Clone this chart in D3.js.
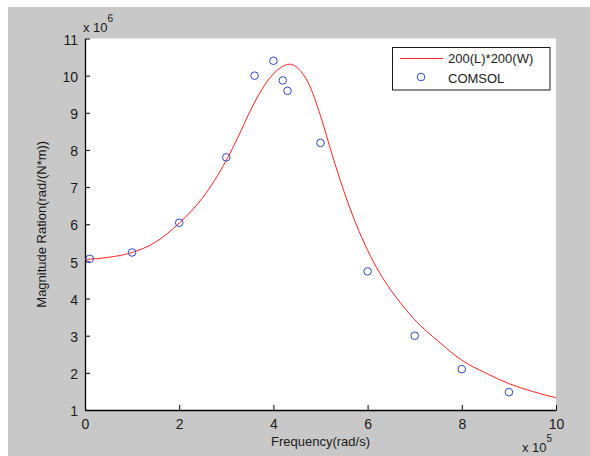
<!DOCTYPE html>
<html>
<head>
<meta charset="utf-8">
<script src="https://cdn.jsdelivr.net/npm/d3@7"></script>
<style>
  body { margin: 0; background: #fff; }
  svg text { font-family: "Liberation Sans", Arial, sans-serif; fill: #1a1a1a; }
</style>
</head>
<body>
<div id="chart"></div>
<script>
// curve: 200(L)*200(W), x in 1e5 rad/s, y in 1e6 rad/(N*m)
var curveX = [0, 0.5, 1, 1.5, 2, 2.5, 3, 3.25, 3.5, 3.75, 4, 4.25, 4.35, 4.5, 4.75, 5, 5.25, 5.5, 5.75, 6, 6.25, 6.5, 6.75, 7, 7.5, 8, 8.5, 9, 9.5, 10];
var curveY = [5.05, 5.11, 5.24, 5.52, 6.03, 6.72, 7.72, 8.35, 9.03, 9.62, 10.05, 10.28, 10.31, 10.22, 9.78, 8.92, 7.86, 6.88, 6.02, 5.30, 4.70, 4.22, 3.80, 3.43, 2.85, 2.34, 2.0, 1.71, 1.5, 1.33];

// COMSOL points
var comsolX = [0.1, 1, 2, 3, 3.6, 4.0, 4.2, 4.3, 5, 6, 7, 8, 9];
var comsolY = [5.07, 5.24, 6.04, 7.8, 10.0, 10.4, 9.87, 9.59, 8.19, 4.73, 3.0, 2.1, 1.48];

var xTicks = [0, 2, 4, 6, 8, 10];
var yTicks = [1, 2, 3, 4, 5, 6, 7, 8, 9, 10, 11];
var legendLabels = ["200(L)*200(W)", "COMSOL"];

var W = 590, H = 456;
var margin = {top: 38.5, right: 34, bottom: 46, left: 85};

var svg = d3.select("#chart").append("svg")
    .attr("width", W)
    .attr("height", H);

// figure background (white strip top/left like the screenshot)
svg.append("rect").attr("x", 8).attr("y", 7).attr("width", W - 8).attr("height", H - 7).attr("fill", "#c8c8c8");

var xScale = d3.scaleLinear().domain([0, 10]).range([margin.left, W - margin.right]);
var yScale = d3.scaleLinear().domain([1, 11]).range([H - margin.bottom, margin.top]);

svg.append("rect")
    .attr("x", xScale(0)).attr("y", yScale(11))
    .attr("width", xScale(10) - xScale(0))
    .attr("height", yScale(1) - yScale(11))
    .attr("fill", "#fff");

var xAxis = d3.axisBottom(xScale).tickValues(xTicks).tickSizeInner(-5).tickSizeOuter(0).tickPadding(9);
var yAxis = d3.axisLeft(yScale).tickValues(yTicks).tickSizeInner(-5).tickSizeOuter(0).tickPadding(7);

var gx = svg.append("g")
    .attr("transform", `translate(0,${yScale(1)})`)
    .call(xAxis);
var gy = svg.append("g")
    .attr("transform", `translate(${xScale(0)},0)`)
    .call(yAxis);

[gx, gy].forEach(function(g) {
    g.select(".domain").attr("stroke", "#000").attr("stroke-width", 1.3);
    g.selectAll(".tick line").attr("stroke", "#000");
    g.selectAll(".tick text").style("font-size", "14px").attr("fill", "#1a1a1a");
});
gy.selectAll(".tick text").attr("dy", "0.4em");

// curve
var line = d3.line()
    .x((d, i) => xScale(curveX[i]))
    .y(d => yScale(d))
    .curve(d3.curveMonotoneX);

svg.append("path")
    .datum(curveY)
    .attr("fill", "none")
    .attr("stroke", "#ff2020")
    .attr("stroke-width", 1)
    .attr("d", line);

svg.append("g").selectAll("circle")
    .data(comsolY)
    .enter().append("circle")
    .attr("cx", (d, i) => xScale(comsolX[i]))
    .attr("cy", d => yScale(d))
    .attr("r", 3.8)
    .attr("fill", "none")
    .attr("stroke", "#2a48c0")
    .attr("stroke-width", 1);

// exponent labels
var e1 = svg.append("text").attr("x", 83).attr("y", 32).style("font-size", "13px");
e1.append("tspan").text("x 10");
e1.append("tspan").attr("dy", -10).style("font-size", "10px").text("6");

var e2 = svg.append("text").attr("x", 522).attr("y", 452).style("font-size", "13px");
e2.append("tspan").text("x 10");
e2.append("tspan").attr("dy", -10).style("font-size", "10px").text("5");

// axis titles
svg.append("text")
    .attr("x", (xScale(0) + xScale(10)) / 2)
    .attr("y", 446)
    .attr("text-anchor", "middle")
    .style("font-size", "13px")
    .text("Frequency(rad/s)");

svg.append("text")
    .attr("transform", `translate(46,${(yScale(1) + yScale(11)) / 2}) rotate(-90)`)
    .attr("text-anchor", "middle")
    .style("font-size", "13px")
    .text("Magnitude Ration(rad/(N*m))");

// legend
var lg = svg.append("g");
lg.append("rect")
    .attr("x", 392.5).attr("y", 47.5)
    .attr("width", 157.5).attr("height", 42.5)
    .attr("fill", "#fff").attr("stroke", "#1a1a1a").attr("stroke-width", 1);
lg.append("line")
    .attr("x1", 400).attr("x2", 443).attr("y1", 58.5).attr("y2", 58.5)
    .attr("stroke", "#ff2020").attr("stroke-width", 1);
lg.append("circle")
    .attr("cx", 421).attr("cy", 77).attr("r", 3.8)
    .attr("fill", "none").attr("stroke", "#2a48c0");
lg.selectAll("text.lbl")
    .data(legendLabels)
    .enter().append("text")
    .attr("class", "lbl")
    .attr("x", 448)
    .attr("y", (d, i) => 63 + i * 20)
    .style("font-size", "13px")
    .text(d => d);
</script>
</body>
</html>
